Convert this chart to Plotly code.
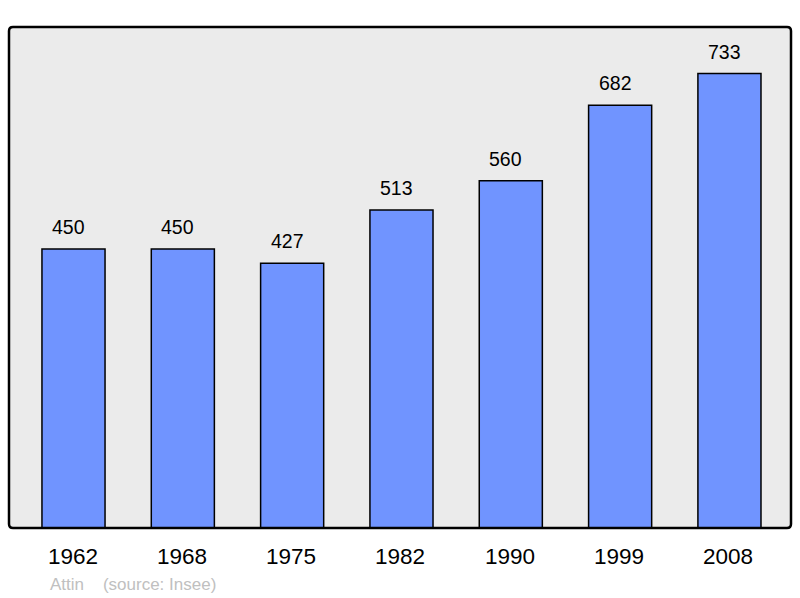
import plotly.graph_objects as go

years = ["1962", "1968", "1975", "1982", "1990", "1999", "2008"]
population = [450, 450, 427, 513, 560, 682, 733]

W, H = 800, 598
L, R, T, B = 9, 9, 27, 70
x = list(range(len(years)))
FONT = "Liberation Sans, Arial, sans-serif"

fig = go.Figure()
fig.add_trace(go.Bar(
    x=x, y=population, width=0.577,
    marker=dict(color="#7094ff", line=dict(color="#000000", width=1.5)),
    hoverinfo="skip",
))

for xi, v in zip(x, population):
    fig.add_annotation(x=xi, y=v, text=str(v), showarrow=False, yshift=22, xshift=-5,
                       font=dict(size=19.5, color="#000000", family=FONT))

for xi, yr in zip(x, years):
    fig.add_annotation(x=xi, y=0, text=yr, showarrow=False, yshift=-28, xshift=-1,
                       font=dict(size=22.5, color="#000000", family=FONT))

fig.add_annotation(xref="paper", yref="paper", x=(48 - L) / (W - L - R), y=-(584 - (H - B)) / (H - T - B),
                   xanchor="left", yanchor="middle", showarrow=False,
                   text="Attin&nbsp;&nbsp;&nbsp;&nbsp;(source: Insee)",
                   font=dict(size=17, color="#c0c0c0", family=FONT))

# rounded border
pw, ph = W - L - R, H - T - B
r = 4
rx, ry = r / pw, r / ph
path = (f"M {rx},0 L {1-rx},0 Q 1,0 1,{ry} L 1,{1-ry} Q 1,1 {1-rx},1 "
        f"L {rx},1 Q 0,1 0,{1-ry} L 0,{ry} Q 0,0 {rx},0 Z")
fig.add_shape(type="path", xref="paper", yref="paper", path=path,
              line=dict(color="#000000", width=2.5), layer="above")

fig.update_layout(
    width=W, height=H,
    margin=dict(l=L, r=R, t=T, b=B),
    paper_bgcolor="#ffffff", plot_bgcolor="#ebebeb",
    showlegend=False,
    xaxis=dict(range=[-0.59, 6.563], showticklabels=False, showgrid=False, zeroline=False, fixedrange=True),
    yaxis=dict(range=[0, 808], showticklabels=False, showgrid=False, zeroline=False, fixedrange=True),
    font=dict(family=FONT),
)

fig.write_html("out.html", config={"displayModeBar": False},
               post_script="document.body.style.margin='0';document.body.style.overflow='hidden';")
